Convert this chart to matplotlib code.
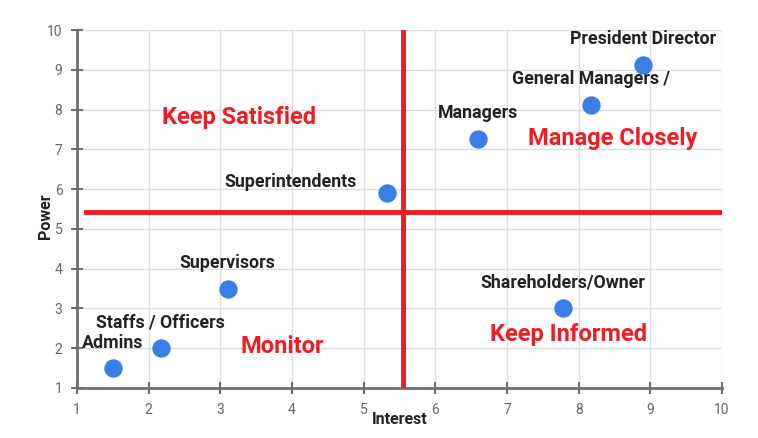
import matplotlib
matplotlib.use('Agg')
import matplotlib.pyplot as plt

plt.rcParams['font.family'] = ['Roboto', 'DejaVu Sans']

# stakeholder points
names = ['Admins', 'Staffs / Officers', 'Supervisors', 'Superintendents',
         'Managers', 'General Managers /', 'President Director', 'Shareholders/Owner']
interest = [1.5, 2.17, 3.1, 5.33, 6.6, 8.17, 8.9, 7.78]
power = [1.5, 2.0, 3.5, 5.9, 7.25, 8.12, 9.13, 3.0]

# label anchor positions (data units)
label_x = [1.5, 2.17, 3.1, 4.9, 6.6, 8.17, 8.9, 7.78]
label_y = [2.13, 2.64, 4.15, 6.18, 7.91, 8.77, 9.77, 3.65]
label_ha = ['center', 'center', 'center', 'right', 'center', 'center', 'center', 'center']

# quadrant names
quadrants = ['Keep Satisfied', 'Manage Closely', 'Monitor', 'Keep Informed']
quad_x = [3.26, 8.47, 3.86, 7.86]
quad_y = [7.81, 7.26, 2.04, 2.35]

# divider lines
v_split = 5.545
h_split = 5.43

fig = plt.figure(figsize=(7.58, 4.38), dpi=100)
ax = fig.add_axes([0.1016, 0.1142, 0.8509, 0.8173])

ax.set_xlim(1, 10)
ax.set_ylim(1, 10)
ax.set_xticks(range(1, 11))
ax.set_yticks(range(1, 11))
ax.grid(True, color='#dcdcdc', linewidth=1)
ax.set_axisbelow(True)

for s in ['top', 'right']:
    ax.spines[s].set_visible(False)
for s in ['left', 'bottom']:
    ax.spines[s].set_color('#707070')
    ax.spines[s].set_linewidth(2)
ax.tick_params(direction='inout', length=9, width=1.5, color='#707070',
               labelcolor='#666666', labelsize=10, pad=6)

ax.axvline(v_split, ymin=0, ymax=(9.95 - 1) / 9, color='#ee1c25', linewidth=3.5, zorder=3)
ax.axhline(h_split, xmin=(1.126 - 1) / 9, xmax=1, color='#ee1c25', linewidth=3.5, zorder=3)

ax.scatter(interest, power, s=150, color='#3b7ee8', zorder=4, clip_on=False)

for n, x, y, ha in zip(names, label_x, label_y, label_ha):
    ax.text(x, y, n, ha=ha, va='center', fontsize=12.8, fontweight='bold', color='#222222')

for q, x, y in zip(quadrants, quad_x, quad_y):
    ax.text(x, y, q, ha='center', va='center', fontsize=17, fontweight='bold', color='#ee1c25')

ax.set_xlabel('Interest', fontsize=11.5, fontweight='bold', color='#222222', labelpad=-3.5)
ax.set_ylabel('Power', fontsize=11.5, fontweight='bold', color='#222222')
ax.yaxis.set_label_coords(-0.038, 0.48)

fig.savefig('out.png', dpi=100)
